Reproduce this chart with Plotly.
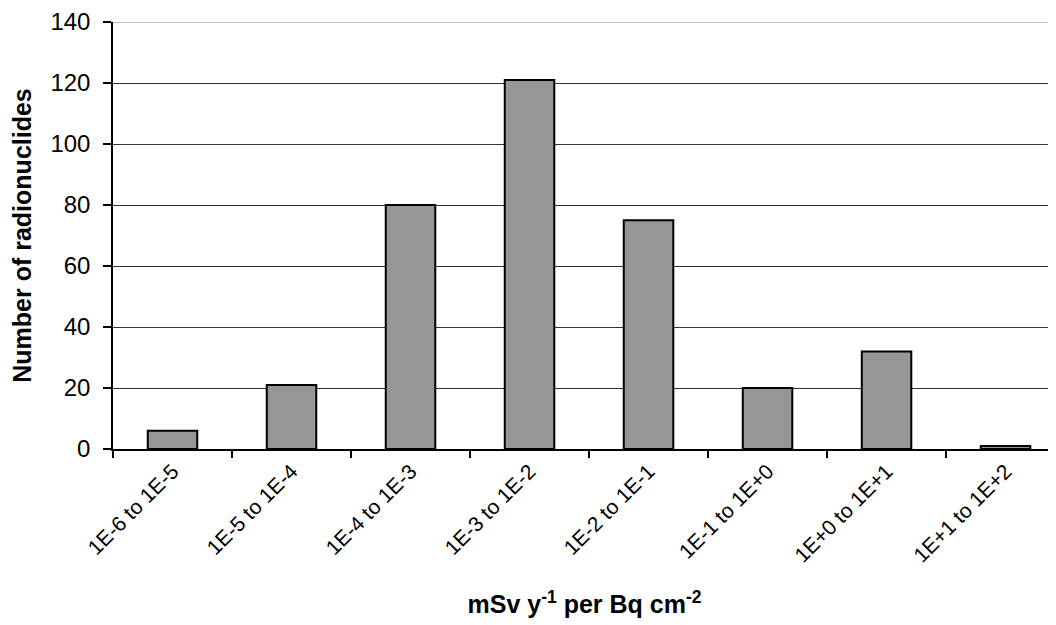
import plotly.graph_objects as go

categories = ["1E-6 to 1E-5", "1E-5 to 1E-4", "1E-4 to 1E-3", "1E-3 to 1E-2",
              "1E-2 to 1E-1", "1E-1 to 1E+0", "1E+0 to 1E+1", "1E+1 to 1E+2"]
counts = [6, 21, 80, 121, 75, 20, 32, 1]
y_ticks = [0, 20, 40, 60, 80, 100, 120, 140]

FONT = "Liberation Sans, Arial, sans-serif"

fig = go.Figure()
fig.add_trace(go.Bar(
    x=categories, y=counts,
    marker=dict(color="#969696", line=dict(color="#000000", width=2)),
    showlegend=False,
))

fig.update_layout(
    width=1048, height=617,
    paper_bgcolor="white", plot_bgcolor="white",
    margin=dict(l=105, r=0, t=14, b=176),
    bargap=0.584,
    font=dict(family=FONT, color="black"),
    xaxis=dict(
        type="category",
        automargin=False,
        range=[-0.5, 7.424],
        showline=True, linecolor="black", linewidth=1.5,
        ticks="outside", ticklen=7, tickcolor="black", tickwidth=1.5,
        tickson="boundaries",
        showgrid=False,
        tickangle=-45,
        tickfont=dict(size=21, family=FONT, color="black"),
        title=dict(text="<b>mSv y<sup>-1</sup> per Bq cm<sup>-2</sup></b>",
                   font=dict(size=25, family=FONT, color="black"), standoff=30),
    ),
    yaxis=dict(
        automargin=False,
        range=[0, 140],
        tickvals=y_ticks,
        showline=True, linecolor="black", linewidth=1.5,
        ticks="outside", ticklen=8, tickcolor="black", tickwidth=1.5,
        showgrid=True, gridcolor="#333333", gridwidth=1.2,
        zeroline=False,
        tickfont=dict(size=24, family=FONT, color="black"),
        ticklabelstandoff=8,
        title=dict(text="<b>Number of radionuclides</b>",
                   font=dict(size=25, family=FONT, color="black"), standoff=14),
    ),
    shapes=[dict(type="line", xref="paper", yref="y", x0=0, x1=1, y0=140, y1=140,
                 line=dict(color="#c0c0c0", width=2), layer="above")],
)

fig.write_html("out.html")
